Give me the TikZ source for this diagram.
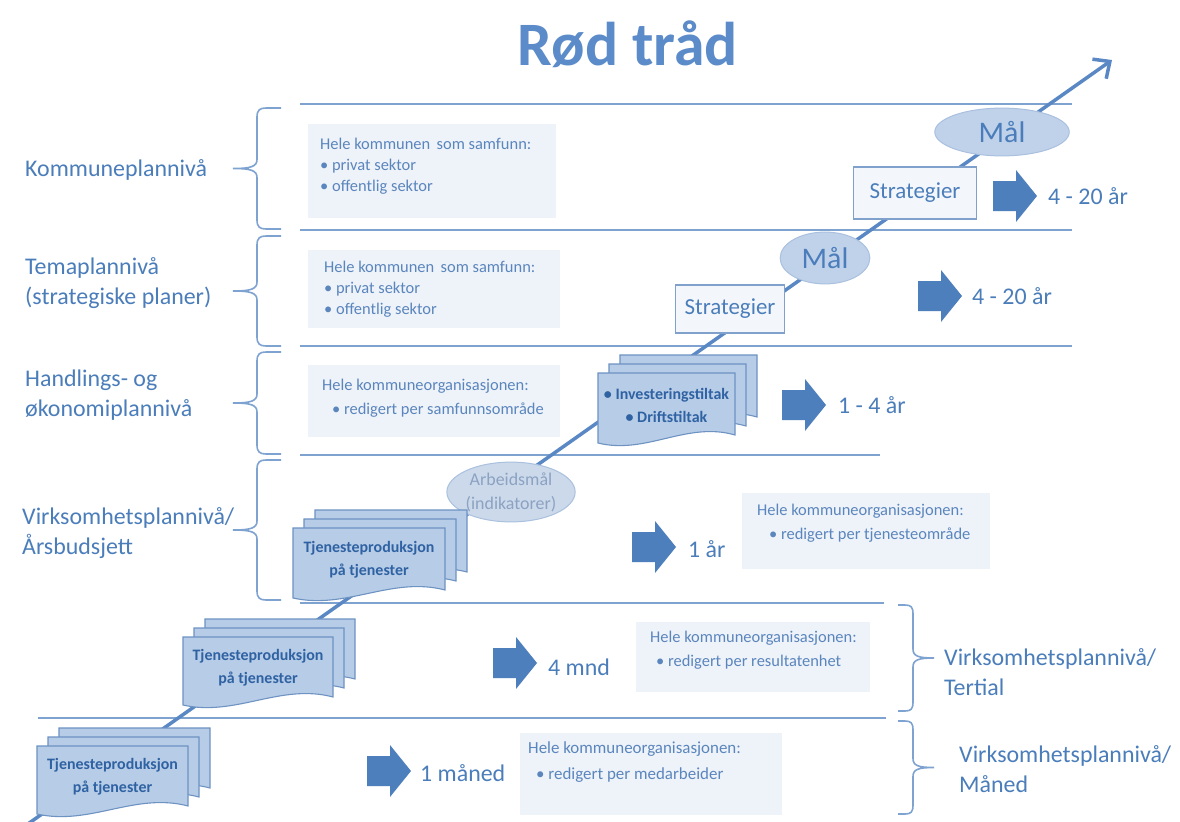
\documentclass[tikz,border=0pt]{standalone}
\usepackage{fontspec}
\setmainfont{Carlito}
\usetikzlibrary{arrows.meta,shapes.geometric}
\definecolor{ttl}{HTML}{5B8BC9}
\definecolor{labc}{HTML}{4A7DBA}
\definecolor{hlc}{HTML}{7FA3D0}
\definecolor{boxf}{HTML}{EEF3F9}
\definecolor{boxt}{HTML}{5A85BD}
\definecolor{stkf}{HTML}{B7CCE6}
\definecolor{stkd}{HTML}{6E93C3}
\definecolor{stkt}{HTML}{2F62A3}
\definecolor{ellf}{HTML}{C0D2EA}
\definecolor{elld}{HTML}{A9C0DF}
\definecolor{arbf}{HTML}{CCD9EA}
\definecolor{arbt}{HTML}{8BA2C2}
\definecolor{strf}{HTML}{F3F7FB}
\definecolor{strd}{HTML}{7FA1CB}
\definecolor{arrc}{HTML}{4E7FBD}
\definecolor{thr}{HTML}{5A88C4}
\newcommand\fz[2]{\fontsize{#1}{#2}\selectfont}
\newcommand\docstack[6]{%
  \foreach \k in {2,1} {%
    \pgfmathsetmacro\xx{#2+11*\k}\pgfmathsetmacro\yy{#3-9*\k}%
    \filldraw[stkshape] (\xx,\yy) -- (\xx+#4,\yy) -- (\xx+#4,\yy+#5-8) .. controls (\xx+0.65*#4,\yy+#5-22) and (\xx+0.35*#4,\yy+#5+12) .. (\xx,\yy+#5) -- cycle;
  }%
  \filldraw[stkshape] (#2,#3) -- (#2+#4,#3) -- (#2+#4,#3+#5-8) .. controls (#2+0.65*#4,#3+#5-22) and (#2+0.35*#4,#3+#5+12) .. (#2,#3+#5) -- cycle;
  \node[stktext] (#1) at (#2+0.5*#4,#3+0.5*#5-3) {#6};
}
\newcommand\barrow[2]{%
  \fill[arrc] (#1,#2-15) -- ++(23,0) -- ++(0,-11) -- ++(21,26) -- ++(-21,26) -- ++(0,-11) -- ++(-23,0) -- cycle;}
% left brace: ends at x=281, spine 257, tip 233
\newcommand\lbr[2]{%
  \pgfmathsetmacro\ym{(#1+#2)/2}%
  \draw[brc] (281,#1) -- (266,#1) .. controls (260,#1) and (257,#1+2) .. (257,#1+9) -- (257,\ym-9) .. controls (257,\ym-2) and (251,\ym) .. (233,\ym) .. controls (251,\ym) and (257,\ym+2) .. (257,\ym+9) -- (257,#2-9) .. controls (257,#2-2) and (260,#2) .. (266,#2) -- (281,#2);}
% right brace: ends at x=898, spine 913, tip 934
\newcommand\rbr[2]{%
  \pgfmathsetmacro\ym{(#1+#2)/2}%
  \draw[brc] (898,#1) -- (905,#1) .. controls (911,#1) and (913,#1+2) .. (913,#1+9) -- (913,\ym-9) .. controls (913,\ym-2) and (918,\ym) .. (934,\ym) .. controls (918,\ym) and (913,\ym+2) .. (913,\ym+9) -- (913,#2-9) .. controls (913,#2-2) and (911,#2) .. (905,#2) -- (898,#2);}
\begin{document}
\begin{tikzpicture}[x=1bp,y=-1bp,
  hl/.style={draw=hlc,line width=2},
  brc/.style={draw=hlc,line width=1.6},
  lab/.style={text=labc,font=\fz{24}{30},inner sep=0,align=left},
  boxn/.style={fill=boxf,draw=none,inner sep=0},
  boxtxt/.style={text=boxt,font=\fz{16.5}{24},inner sep=0,align=left,anchor=north west},
  stkshape/.style={fill=stkf,draw=stkd,line width=1.1},
  stktext/.style={text=stkt,font=\bfseries\fz{16}{23},align=center,inner sep=0},
  ell/.style={ellipse,fill=ellf,draw=elld,line width=1,inner sep=0},
  strat/.style={rectangle,fill=strf,draw=strd,line width=1.2,text=labc,font=\fz{23}{26},inner sep=0},
  durt/.style={text=labc,font=\fz{24}{28},anchor=west,inner sep=0},
  thread/.style={draw=thr,line width=3.5,-{Straight Barb[length=13,width=24,line width=3.5]}}
]
\fill[white] (0,0) rectangle (1180,822);
\useasboundingbox (0,0) rectangle (1180,822);

% title
\node[text=ttl,font=\bfseries\fz{62}{70},inner sep=0] (title) at (628,44) {Rød tråd};

% horizontal lines
\draw[hl] (300,104) -- (1072,104);
\draw[hl] (300,230) -- (1072,230);
\draw[hl] (300,346) -- (1072,346);
\draw[hl] (300,455) -- (880,455);
\draw[hl] (300,603) -- (884,603);
\draw[hl] (38,718) -- (886,718);

% braces
\lbr{108}{229}
\lbr{236}{346}
\lbr{352}{454}
\lbr{460}{600}
\rbr{605}{711}
\rbr{721}{814}

% left labels
\node[lab,anchor=west] (kp) at (25,170) {Kommuneplannivå};
\node[lab,anchor=west] (tp) at (25,283) {Temaplannivå\\(strategiske planer)};
\node[lab,anchor=west] (hp) at (25,395) {Handlings- og\\økonomiplannivå};
\node[lab,anchor=west] (vp) at (22,533) {Virksomhetsplannivå/\\Årsbudsjett};
\node[lab,anchor=west] (vt) at (944,672) {Virksomhetsplannivå/\\Tertial};
\node[lab,anchor=west] (vm) at (959,769) {Virksomhetsplannivå/\\Måned};

% text boxes
\node[boxn,minimum width=248,minimum height=94] (bxA) at (432,171) {};
\node[boxtxt] (bxAt) at (320,138) {Hele kommunen\, som samfunn:\\[-3pt] • privat sektor\\[-3pt] • offentlig sektor};
\node[boxn,minimum width=252,minimum height=78] (bxB) at (434,289) {};
\node[boxtxt] (bxBt) at (324,261) {Hele kommunen\, som samfunn:\\[-3pt] • privat sektor\\[-3pt] • offentlig sektor};
\node[boxn,minimum width=252,minimum height=73] (bxC) at (434,401) {};
\node[boxtxt] (bxCt) at (322,379) {Hele kommuneorganisasjonen:\\ \hspace*{10bp}• redigert per samfunnsområde};
\node[boxn,minimum width=248,minimum height=77] (bxD) at (866,531) {};
\node[boxtxt] (bxDt) at (757,504) {Hele kommuneorganisasjonen:\\ \hspace*{12bp}• redigert per tjenesteområde};
\node[boxn,minimum width=234,minimum height=70] (bxE) at (753,657) {};
\node[boxtxt] (bxEt) at (650,631) {Hele kommuneorganisasjonen:\\ \hspace*{6bp}• redigert per resultatenhet};
\node[boxn,minimum width=262,minimum height=82] (bxF) at (651,774) {};
\node[boxtxt,font=\fz{17}{26}] (bxFt) at (528,742) {Hele kommuneorganisasjonen:\\ \hspace*{8bp}• redigert per medarbeider};

% red thread
\coordinate (t0) at (25,826);
\coordinate (t1) at (1112,60);
\draw[thread] (t0) -- (t1);

% ellipses and strategy boxes
\node[ell,minimum width=135,minimum height=48,text=labc,font=\fz{30}{32}] (mal1) at (1002,132) {Mål};
\node[ell,minimum width=90,minimum height=52,text=labc,font=\fz{30}{32}] (mal2) at (825,258) {Mål};
\node[ell,fill=arbf,minimum width=122,minimum height=60,text=arbt,font=\fz{18}{24},align=center] (arb) at (511,492) {Arbeidsmål\\(indikatorer)};
\node[strat,minimum width=124,minimum height=52] (str1) at (915,193) {Strategier};
\node[strat,minimum width=110,minimum height=48] (str2) at (730,309) {Strategier};

% document stacks
\docstack{stk1}{598}{373}{137}{70}{• Investeringstiltak\\• Driftstiltak}
\docstack{stk2}{293}{528}{152}{70}{Tjenesteproduksjon\\på tjenester}
\docstack{stk3}{183}{637}{150}{68}{Tjenesteproduksjon\\på tjenester}
\docstack{stk4}{37}{746}{151}{68}{Tjenesteproduksjon\\på tjenester}

% block arrows and durations
\barrow{993}{196}
\node[durt] (d1) at (1048,196) {4 - 20 år};
\barrow{918}{296}
\node[durt] (d2) at (972,296) {4 - 20 år};
\barrow{782}{405}
\node[durt] (d3) at (838,405) {1 - 4 år};
\barrow{632}{547}
\node[durt] (d4) at (688,549) {1 år};
\barrow{493}{663}
\node[durt] (d5) at (548,667) {4 mnd};
\barrow{367}{771}
\node[durt] (d6) at (420,773) {1 måned};
\end{tikzpicture}
\end{document}
